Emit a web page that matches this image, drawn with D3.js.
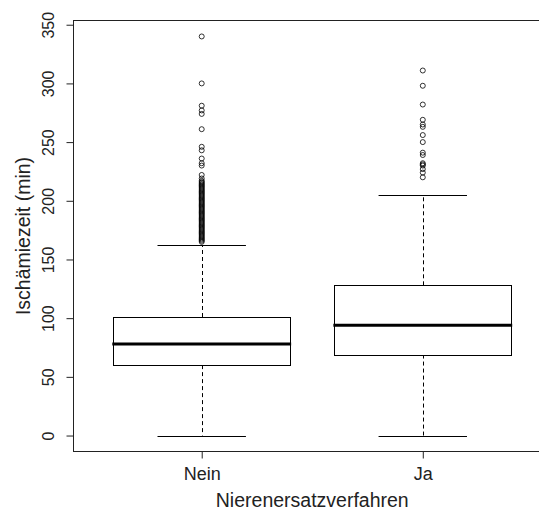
<!DOCTYPE html>
<html>
<head>
<meta charset="utf-8">
<script src="https://cdn.jsdelivr.net/npm/d3@7"></script>
<style>
  html, body { margin: 0; padding: 0; background: #fff; }
  svg { display: block; font-family: "Liberation Sans", Arial, sans-serif; }
</style>
</head>
<body>
<svg id="chart" width="539" height="512"></svg>
<script>
// groups on the x axis
const categories = ['Nein', 'Ja']

// five-number summaries (min)
const lowerWhisker = [0, 0]
const q1 = [60, 69]
const median = [78, 94]
const q3 = [101, 128]
const upperWhisker = [162, 205]

// outliers above the upper whisker
const outliersNein = [340, 300, 281, 277, 274, 261, 246, 243, 236, 232, 230, 222, 219,
  217, 216, 215, 214, 213, 212, 211, 210, 209, 208, 207, 206, 205, 204, 203, 202, 201,
  200, 199, 198, 197, 196, 195, 194, 193, 192, 191, 190, 189, 188, 187, 186, 185, 184,
  183, 182, 181, 180, 179, 178, 177, 176, 175, 174, 173, 172, 171, 170, 169, 168, 167, 166, 165]
const outliersJa = [311, 298, 282, 269, 265, 263, 256, 250, 241, 239, 232, 231, 230, 227, 224, 220]

const yTicks = [0, 50, 100, 150, 200, 250, 300, 350]

const yTitle = 'Ischämiezeit (min)'
const xTitle = 'Nierenersatzverfahren'

const svg = d3.select('#chart')

// plot region, the frame runs off the right edge like the original
const plot = { left: 73.5, right: 551, top: 20.5, bottom: 451.5 }

const x = d3.scaleLinear().domain([0.42, 2.58]).range([plot.left, plot.right])
const y = d3.scaleLinear().domain([-13.6, 353.6]).range([plot.bottom, plot.top])

const boxHalf = 0.4
const capHalf = 0.2

const groups = categories.map((name, i) => ({
  name,
  pos: i + 1,
  lo: lowerWhisker[i],
  q1: q1[i],
  med: median[i],
  q3: q3[i],
  hi: upperWhisker[i],
  out: i === 0 ? outliersNein : outliersJa
}))

const g = svg.selectAll('g.box')
  .data(groups)
  .join('g')
  .attr('class', 'box')

// whiskers, dashed
g.append('line')
  .attr('x1', d => Math.round(x(d.pos)) + 0.5)
  .attr('x2', d => Math.round(x(d.pos)) + 0.5)
  .attr('y1', d => y(d.q3))
  .attr('y2', d => y(d.hi))
  .attr('stroke', '#000')
  .attr('stroke-dasharray', '4,3')

g.append('line')
  .attr('x1', d => Math.round(x(d.pos)) + 0.5)
  .attr('x2', d => Math.round(x(d.pos)) + 0.5)
  .attr('y1', d => y(d.q1))
  .attr('y2', d => y(d.lo))
  .attr('stroke', '#000')
  .attr('stroke-dasharray', '4,3')

// caps
for (const key of ['lo', 'hi']) {
  g.append('line')
    .attr('x1', d => x(d.pos - capHalf))
    .attr('x2', d => x(d.pos + capHalf))
    .attr('y1', d => Math.round(y(d[key])) + 0.5)
    .attr('y2', d => Math.round(y(d[key])) + 0.5)
    .attr('stroke', '#000')
}

// box
g.append('rect')
  .attr('x', d => Math.round(x(d.pos - boxHalf)) + 0.5)
  .attr('y', d => Math.round(y(d.q3)) + 0.5)
  .attr('width', d => Math.round(x(d.pos + boxHalf)) - Math.round(x(d.pos - boxHalf)))
  .attr('height', d => Math.round(y(d.q1)) - Math.round(y(d.q3)))
  .attr('fill', '#fff')
  .attr('stroke', '#000')

// median
g.append('line')
  .attr('x1', d => x(d.pos - boxHalf) - 1)
  .attr('x2', d => x(d.pos + boxHalf) + 1)
  .attr('y1', d => y(d.med))
  .attr('y2', d => y(d.med))
  .attr('stroke', '#000')
  .attr('stroke-width', 3)

// outliers
g.selectAll('circle')
  .data(d => d.out.map(v => ({ pos: d.pos, v })))
  .join('circle')
  .attr('cx', d => x(d.pos))
  .attr('cy', d => y(d.v))
  .attr('r', 2.5)
  .attr('fill', 'none')
  .attr('stroke', '#000')
  .attr('stroke-width', 0.8)

// frame
svg.append('rect')
  .attr('x', plot.left)
  .attr('y', plot.top)
  .attr('width', plot.right - plot.left)
  .attr('height', plot.bottom - plot.top)
  .attr('fill', 'none')
  .attr('stroke', '#222')

// y axis
const yAxis = svg.append('g')
  .attr('transform', `translate(${plot.left},0)`)
  .call(d3.axisLeft(y).tickValues(yTicks).tickSize(7).tickFormat(d3.format('d')))
yAxis.select('.domain').remove()
yAxis.selectAll('.tick line').attr('stroke', '#222')
yAxis.selectAll('.tick text')
  .attr('transform', 'rotate(-90)')
  .attr('x', 0)
  .attr('y', -20)
  .attr('dy', 0)
  .attr('text-anchor', 'middle')
  .attr('fill', '#222')
  .attr('font-size', 16)
  .attr('font-family', null)

// x axis
const xAxis = svg.append('g')
  .attr('transform', `translate(0,${plot.bottom})`)
  .call(d3.axisBottom(x).tickValues(groups.map(d => d.pos)).tickSize(7)
    .tickFormat((d, i) => categories[i]))
xAxis.select('.domain').remove()
xAxis.selectAll('.tick line').attr('stroke', '#222')
xAxis.selectAll('.tick text')
  .attr('y', 28)
  .attr('dy', 0)
  .attr('fill', '#222')
  .attr('font-size', 18)
  .attr('font-family', null)

// titles
svg.append('text')
  .attr('transform', `translate(30,${(plot.top + plot.bottom) / 2}) rotate(-90)`)
  .attr('text-anchor', 'middle')
  .attr('font-size', 19.5)
  .attr('fill', '#222')
  .text(yTitle)

svg.append('text')
  .attr('x', (plot.left + plot.right) / 2)
  .attr('y', 507)
  .attr('text-anchor', 'middle')
  .attr('font-size', 19.5)
  .attr('fill', '#222')
  .text(xTitle)
</script>
</body>
</html>
